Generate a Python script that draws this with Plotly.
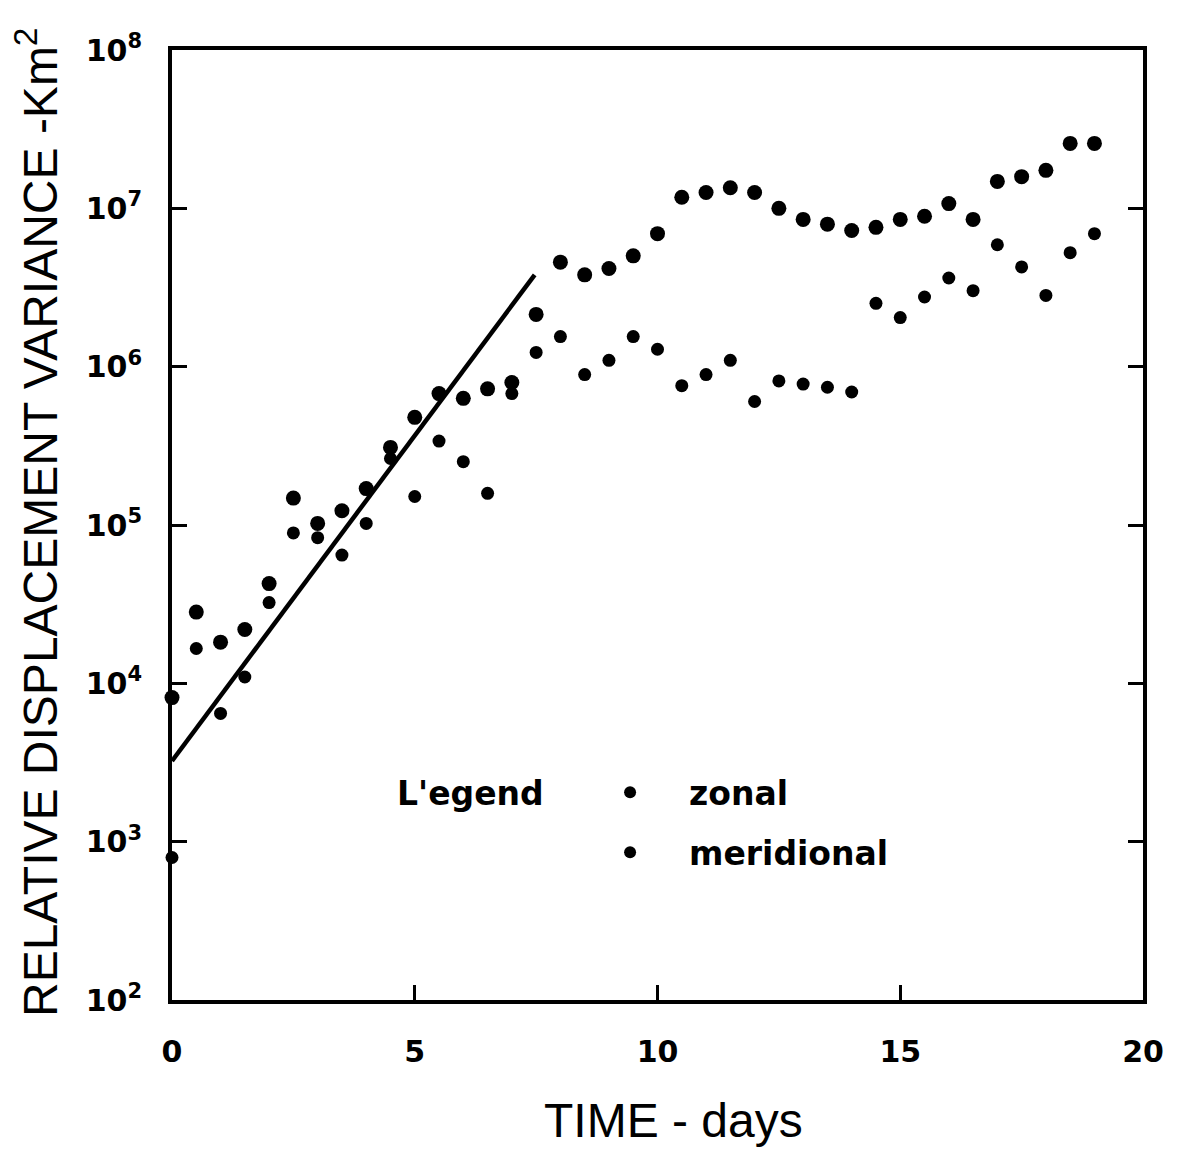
import plotly.graph_objects as go

days = [0, 0.5, 1, 1.5, 2, 2.5, 3, 3.5, 4, 4.5, 5, 5.5, 6, 6.5, 7, 7.5, 8, 8.5, 9, 9.5,
        10, 10.5, 11, 11.5, 12, 12.5, 13, 13.5, 14, 14.5, 15, 15.5, 16, 16.5, 17, 17.5,
        18, 18.5, 19]
# log10 of variance (km^2)
zonal_log = [3.91, 4.45, 4.26, 4.34, 4.63, 5.17, 5.01, 5.09, 5.23, 5.49, 5.68, 5.83, 5.80,
             5.86, 5.90, 6.33, 6.66, 6.58, 6.62, 6.70, 6.84, 7.07, 7.10, 7.13, 7.10, 7.00,
             6.93, 6.90, 6.86, 6.88, 6.93, 6.95, 7.03, 6.93, 7.17, 7.20, 7.24, 7.41, 7.41]
meridional_log = [2.90, 4.22, 3.81, 4.04, 4.51, 4.95, 4.92, 4.81, 5.01, 5.42, 5.18, 5.53,
                  5.40, 5.20, 5.83, 6.09, 6.19, 5.95, 6.04, 6.19, 6.11, 5.88, 5.95, 6.04,
                  5.78, 5.91, 5.89, 5.87, 5.84, 6.40, 6.31, 6.44, 6.56, 6.48, 6.77, 6.63,
                  6.45, 6.72, 6.84]
fit_days = [0, 7.47]
fit_log = [3.51, 6.58]

y_tickvals = [1e2, 1e3, 1e4, 1e5, 1e6, 1e7, 1e8]
y_ticktext = ["10<sup>2</sup>", "10<sup>3</sup>", "10<sup>4</sup>", "10<sup>5</sup>",
              "10<sup>6</sup>", "10<sup>7</sup>", "10<sup>8</sup>"]
x_tickvals = [0, 5, 10, 15, 20]

zonal = [10 ** v for v in zonal_log]
meridional = [10 ** v for v in meridional_log]
fit = [10 ** v for v in fit_log]

fig = go.Figure()
fig.add_trace(go.Scatter(x=fit_days, y=fit, mode="lines", line=dict(color="black", width=4.5),
                         showlegend=False, hoverinfo="skip"))
fig.add_trace(go.Scatter(x=days, y=zonal, mode="markers", name="zonal", legendgroup="z",
                         marker=dict(color="black", size=15, symbol="circle"), cliponaxis=False))
fig.add_trace(go.Scatter(x=days, y=meridional, mode="markers", name="meridional",
                         legendgroup="m",
                         marker=dict(color="black", size=13, symbol="circle"), cliponaxis=False))

tickfont = dict(family="DejaVu Sans", size=30, color="black", weight="bold")
fig.update_layout(
    width=1179, height=1150,
    margin=dict(l=164, r=44, t=42, b=158),
    paper_bgcolor="white", plot_bgcolor="white",
    font=dict(family="DejaVu Sans", color="black"),
    xaxis=dict(range=[0, 20], tickvals=x_tickvals, ticks="inside", ticklen=15, tickwidth=3,
               tickcolor="black", showline=True, linewidth=4, linecolor="black", mirror=True,
               showgrid=False, zeroline=False, tickfont=tickfont, ticklabelstandoff=22),
    yaxis=dict(type="log", range=[2, 8], tickvals=y_tickvals, ticktext=y_ticktext,
               ticks="inside", ticklen=15, tickwidth=3, tickcolor="black", showline=True,
               linewidth=4, linecolor="black", mirror="ticks", showgrid=False, zeroline=False,
               tickfont=tickfont, ticklabelstandoff=20),
    showlegend=True,
    legend=dict(x=0.411, y=0.248, xanchor="left", yanchor="top", bgcolor="rgba(0,0,0,0)",
                font=dict(family="DejaVu Sans", size=33, color="black", weight="bold"),
                itemwidth=108, tracegroupgap=14, itemsizing="constant"),
    annotations=[
        dict(text="L'egend", xref="paper", yref="paper", x=(470 - 172) / 971,
             y=(1000 - 793) / 950, showarrow=False, xanchor="center", yanchor="middle",
             font=dict(family="DejaVu Sans", size=33, color="black", weight="bold")),
        dict(text="TIME - days", xref="paper", yref="paper", x=(673 - 172) / 971,
             y=(1000 - 1120) / 950, showarrow=False, xanchor="center", yanchor="middle",
             font=dict(family="Liberation Sans", size=48, color="black")),
        dict(text="RELATIVE DISPLACEMENT VARIANCE -Km<sup>2</sup>", xref="paper",
             yref="paper", x=(37 - 172) / 971, y=(1000 - 522) / 950, textangle=-90,
             showarrow=False, xanchor="center", yanchor="middle",
             font=dict(family="Liberation Sans", size=48, color="black")),
    ],
)
fig.write_html("out.html")
